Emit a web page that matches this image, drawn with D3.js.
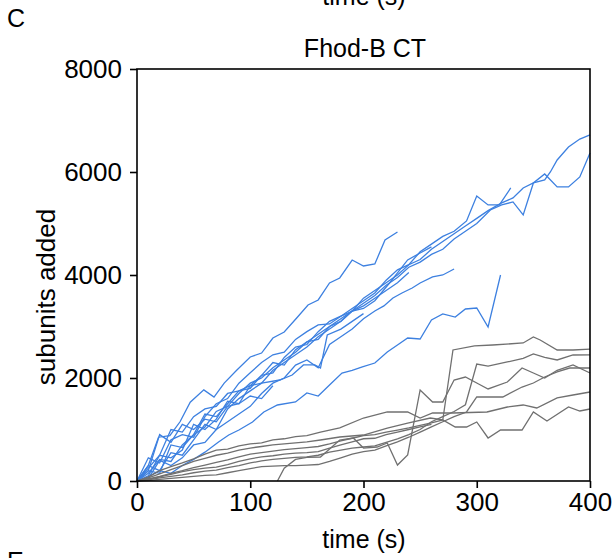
<!DOCTYPE html>
<html>
<head>
<meta charset="utf-8">
<script src="https://cdn.jsdelivr.net/npm/d3@7"></script>
<style>
  body { margin: 0; background: #fff; }
  text { font-family: "Liberation Sans", Arial, sans-serif; }
</style>
</head>
<body>
<div id="container"></div>
<script>
// time (s), subunits added  -- Fhod-B CT filaments (blue)
const blue1 = [[0,0],[10,300],[19,850],[29,880],[38,1150],[47,1530],[59,1770],[68,1630],[77,1900],[88,2150],[100,2408],[110,2485],[120,2777],[130,2893],[141,3165],[151,3417],[160,3515],[170,3845],[179,3942],[190,4291],[200,4175],[210,4214],[219,4680],[230,4835]];
const blue2 = [[0,0],[10,80],[20,200],[30,150],[40,300],[50,420],[60,560],[72,757],[81,893],[90,990],[102,1146],[112,1340],[124,1476],[140,1534],[150,1709],[160,1650],[170,1864],[181,2097],[190,2150],[199,2214],[210,2291],[221,2505],[230,2641],[239,2777],[250,2757],[260,3126],[270,3243],[281,3184],[290,3340],[300,3359],[310,2990],[321,4000]];
const blue3 = [[0,0],[10,50],[20,400],[30,300],[40,450],[50,700],[60,750],[70,1000],[80,1150],[90,1300],[100,1450],[110,1700],[120,1900],[130,2000],[140,2250],[150,2350],[160,2200],[170,2650],[180,2800],[190,2950],[200,3150],[210,3300],[218,3400],[226,3554],[234,3651],[243,3748],[250,3845],[261,3962],[270,4000],[280,4117]];
const blue4 = [[0,0],[10,150],[20,420],[30,380],[40,700],[50,900],[60,1050],[70,1350],[80,1450],[90,1700],[100,1900],[110,2000],[120,2200],[130,2350],[140,2500],[150,2700],[160,2850],[170,3000],[180,3150],[190,3300],[200,3550],[210,3700],[220,3850],[230,4000],[240,4200],[250,4300],[260,4500],[270,4650],[280,4800],[290,4950],[300,5100],[310,5250],[322,5400],[332,5496],[341,5690],[350,5787],[360,5845],[365,6000],[371,6234],[381,6485],[391,6640],[400,6720]];
const blue5 = [[0,0],[10,300],[20,200],[30,550],[40,500],[50,800],[60,1100],[70,1000],[80,1400],[90,1600],[100,1750],[110,1900],[120,2150],[130,2300],[140,2450],[150,2600],[160,2800],[170,2950],[180,3100],[190,3300],[200,3450],[210,3600],[220,3800],[230,3950],[240,4150],[250,4250],[260,4400],[270,4500],[280,4700],[290,4850],[300,5000],[312,5263],[322,5360],[332,5418],[341,5166],[350,5787],[360,5962],[371,5710],[381,5710],[391,5904],[400,6370]];
const blue6 = [[0,0],[10,100],[20,500],[30,450],[40,600],[50,1100],[60,1000],[70,1200],[80,1550],[90,1500],[100,1850],[110,2050],[120,2100],[130,2400],[140,2600],[150,2650],[160,2900],[170,3100],[180,3200],[190,3350],[200,3500],[210,3650],[220,3900],[230,4100],[240,4200],[250,4450],[260,4600],[270,4750],[280,4850],[291,5050],[300,5535],[310,5360],[320,5360],[330,5690]];
const blue7 = [[0,0],[10,200],[20,150],[30,700],[40,650],[50,900],[60,1300],[70,1250],[80,1500],[90,1750],[100,1800],[110,2050],[120,2300],[130,2250],[140,2550],[150,2700],[160,2750],[170,3000],[180,3100],[190,3300],[200,3350],[210,3500],[223,3845],[230,4040],[239,4292],[250,4428],[260,4545]];
const blue8 = [[0,0],[10,450],[20,350],[30,800],[40,900],[50,850],[60,1250],[70,1500],[80,1600],[90,1900],[100,2100],[110,2300],[120,2450],[130,2500],[140,2750],[150,2900],[160,3030],[170,3050],[180,3200],[190,3300],[200,3400],[210,3550],[220,3700],[230,3850],[240,4050]];
const blue9 = [[0,0],[10,250],[20,500],[30,1000],[40,950],[50,1250],[60,1400],[70,1450],[80,1700],[90,1750],[100,1850],[110,1900],[126,1961],[137,2058],[147,2253],[157,2253],[162,2194],[168,2835],[180,2950],[190,3100],[200,3250]];
const blue10 = [[0,0],[10,200],[20,900],[30,750],[40,1100],[50,1000],[60,1200],[70,1150],[80,1450],[90,1500],[100,1650],[110,1600],[120,1850]];

// control filaments (gray)
const gray1 = [[0,0],[10,40],[20,90],[30,150],[40,200],[50,260],[60,310],[70,360],[80,410],[90,470],[100,520],[110,550],[120,580],[130,610],[140,630],[150,650],[160,670],[170,720],[180,780],[190,830],[200,880],[210,900],[220,950],[230,990],[240,1030],[250,1080],[260,1130],[270,1185],[279,2544],[298,2622],[314,2641],[341,2680],[350,2796],[356,2738],[371,2544],[385,2544],[400,2560]];
const gray2 = [[0,0],[10,20],[20,60],[30,90],[40,120],[50,160],[60,190],[70,210],[80,260],[90,300],[100,350],[110,390],[120,420],[130,440],[140,460],[150,470],[160,500],[170,560],[180,600],[190,640],[200,660],[210,680],[220,750],[230,820],[240,900],[250,1000],[260,1150],[270,1250],[280,1350],[290,1480],[300,2270],[310,2230],[327,2311],[341,2380],[350,2466],[360,2400],[371,2350],[385,2447],[400,2450]];
const gray3 = [[124,0],[130,250],[140,420],[150,460],[162,466],[179,796],[191,835],[200,640],[212,660],[221,738],[230,310],[239,505],[250,1767],[261,1534],[270,1534],[280,1961],[290,2019],[300,1903],[310,1787],[327,1922],[340,2194],[350,2097],[360,2000],[371,2150],[385,2253],[400,2097]];
const gray4 = [[0,0],[10,10],[20,30],[30,50],[40,70],[50,90],[60,110],[70,120],[80,160],[90,200],[100,240],[110,280],[120,290],[130,300],[140,300],[150,310],[160,320],[170,380],[180,450],[190,520],[200,570],[210,600],[220,680],[230,760],[240,850],[250,950],[260,1050],[270,1150],[280,1250],[291,1340],[300,1631],[310,1631],[323,1631],[340,1825],[350,1903],[360,2020],[371,2117],[382,2194],[394,2194],[400,2194]];
const gray5 = [[0,0],[10,80],[20,200],[30,280],[40,350],[50,430],[60,520],[70,600],[80,620],[90,680],[100,720],[110,740],[120,800],[130,820],[140,860],[150,880],[162,950],[179,1030],[200,1223],[221,1340],[239,1340],[250,1223],[261,1320],[279,1320],[309,1340],[327,1437],[341,1476],[353,1418],[371,1612],[385,1670],[400,1728]];
const gray6 = [[0,0],[10,60],[20,140],[30,220],[40,300],[50,380],[60,440],[70,500],[80,540],[90,600],[100,640],[110,670],[120,700],[130,720],[140,740],[150,760],[162,796],[179,854],[200,893],[221,1029],[239,1126],[259,1223],[270,1185],[281,1049],[291,1049],[300,1146],[310,835],[321,990],[340,990],[350,1340],[362,1165],[381,1437],[391,1359],[400,1398]];
const gray7 = [[0,0],[10,30],[20,80],[30,130],[40,180],[50,220],[60,250],[70,270],[80,320],[90,380],[100,430],[110,470],[120,490],[130,520],[140,540],[150,550],[160,570],[170,640],[180,700],[190,760],[200,820],[210,830],[220,900],[230,950],[240,1000],[250,1050],[260,1100]];

const blueTraces = [blue1, blue2, blue3, blue4, blue5, blue6, blue7, blue8, blue9, blue10];
const grayTraces = [gray1, gray2, gray3, gray4, gray5, gray6, gray7];
const xTicks = [0, 100, 200, 300, 400];
const yTicks = [0, 2000, 4000, 6000, 8000];

const w = 613;
const h = 558;
const plotLeft = 137, plotRight = 590, plotTop = 69, plotBottom = 481;

const svg = d3.select("#container")
  .append("svg")
  .attr("width", w)
  .attr("height", h);

const xScale = d3.scaleLinear().domain([0, 400]).range([plotLeft, plotRight]);
const yScale = d3.scaleLinear().domain([0, 8000]).range([plotBottom, plotTop]);

const line = d3.line()
  .x((d) => xScale(d[0]))
  .y((d) => yScale(d[1]));

svg.selectAll("path.blue")
  .data(blueTraces)
  .enter()
  .append("path")
  .attr("class", "blue")
  .attr("d", line)
  .attr("fill", "none")
  .attr("stroke", "#3d80e0")
  .attr("stroke-width", 1.3);

svg.selectAll("path.gray")
  .data(grayTraces)
  .enter()
  .append("path")
  .attr("class", "gray")
  .attr("d", line)
  .attr("fill", "none")
  .attr("stroke", "#707070")
  .attr("stroke-width", 1.3);

// frame
svg.append("rect")
  .attr("x", plotLeft)
  .attr("y", plotTop)
  .attr("width", plotRight - plotLeft)
  .attr("height", plotBottom - plotTop)
  .attr("fill", "none")
  .attr("stroke", "#000")
  .attr("stroke-width", 1.6);

const xAxis = d3.axisBottom(xScale).tickValues(xTicks).tickSize(7).tickPadding(5);
const yAxis = d3.axisLeft(yScale).tickValues(yTicks).tickFormat(d3.format("d")).tickSize(7).tickPadding(8);

const gx = svg.append("g")
  .attr("transform", "translate(0," + plotBottom + ")")
  .call(xAxis);
const gy = svg.append("g")
  .attr("transform", "translate(" + plotLeft + ",0)")
  .call(yAxis);

[gx, gy].forEach((g) => {
  g.select(".domain").remove();
  g.selectAll("line").attr("stroke", "#000").attr("stroke-width", 1.6);
  g.selectAll("text")
    .attr("fill", "#000")
    .style("font-family", '"Liberation Sans", Arial, sans-serif')
    .style("font-size", "26px");
});

// labels
svg.append("text")
  .attr("x", 365).attr("y", 57)
  .attr("text-anchor", "middle")
  .style("font-size", "25px")
  .text("Fhod-B CT");

svg.append("text")
  .attr("x", 364).attr("y", 548)
  .attr("text-anchor", "middle")
  .style("font-size", "25px")
  .text("time (s)");

// axis title of the panel above, cut by the crop
svg.append("text")
  .attr("x", 364).attr("y", 5)
  .attr("text-anchor", "middle")
  .style("font-size", "25px")
  .text("time (s)");

svg.append("text")
  .attr("transform", "translate(55,297) rotate(-90)")
  .attr("text-anchor", "middle")
  .style("font-size", "26px")
  .text("subunits added");

svg.append("text")
  .attr("x", 7).attr("y", 27)
  .style("font-size", "25px")
  .text("C");

// next panel letter, cut by the crop
svg.append("text")
  .attr("x", 7).attr("y", 570)
  .style("font-size", "25px")
  .text("E");
</script>
</body>
</html>
